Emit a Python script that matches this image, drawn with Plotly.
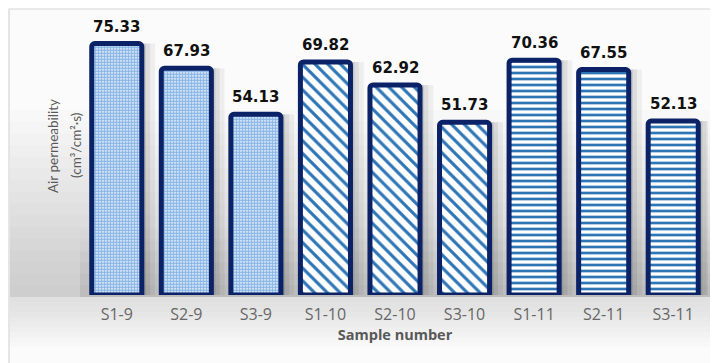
import plotly.graph_objects as go

samples = ["S1-9", "S2-9", "S3-9", "S1-10", "S2-10", "S3-10", "S1-11", "S2-11", "S3-11"]
air_permeability = [75.33, 67.93, 54.13, 69.82, 62.92, 51.73, 70.36, 67.55, 52.13]
value_labels = ["75.33", "67.93", "54.13", "69.82", "62.92", "51.73", "70.36", "67.55", "52.13"]
patterns = [".", ".", ".", "\\", "\\", "\\", "-", "-", "-"]

W, H = 718, 363
OFF = 8  # page body margin offset
ML, MR, MT, MB = 74, 18, 14, 76
PW, PH = W - ML - MR, H - MT - MB


def px(xr):
    return (xr - OFF - ML) / PW


def py(yr):
    return (H - MB - (yr - OFF)) / PH


NAVY = "#0b2366"
BLUE = "#2e75b6"

fig = go.Figure()

# soft shadows behind bars
for dx, w, a in [(0.11, 0.80, 0.05), (0.08, 0.76, 0.07), (0.06, 0.72, 0.09)]:
    fig.add_trace(go.Bar(
        x=samples, y=air_permeability, width=w, offset=-0.36 + dx,
        marker=dict(color=f"rgba(0,0,0,{a})", line=dict(width=0)),
        hoverinfo="skip", showlegend=False,
    ))

fig.add_trace(go.Bar(
    x=samples, y=air_permeability, width=0.72, offset=-0.36,
    marker=dict(
        color="white",
        line=dict(color=NAVY, width=5),
        cornerradius=3,
        pattern=dict(
            shape=patterns,
            fgcolor=[BLUE if p != "." else "#8ab6e6" for p in patterns],
            bgcolor="white",
            size=[3 if p == "." else (6 if p == "-" else 9) for p in patterns],
            solidity=[0.75 if p == "." else (0.45 if p == "-" else 0.35) for p in patterns],
            fillmode="replace",
        ),
    ),
    hoverinfo="x+y",
    showlegend=False,
))

shapes = []
# outer frame
shapes.append(dict(type="rect", xref="paper", yref="paper",
                   x0=px(9), x1=px(760), y0=py(420), y1=py(9),
                   fillcolor="#fbfbfb", line=dict(color="#d6d6d6", width=1.2), layer="below"))
# gray gradient toward floor (whole width)
n = 16
for i in range(n):
    y_top = 110 + i * (297 - 110) / n
    shapes.append(dict(type="rect", xref="paper", yref="paper",
                       x0=px(10), x1=px(760), y0=py(297), y1=py(y_top),
                       fillcolor="rgba(140,140,140,0.022)", line=dict(width=0), layer="below"))
# extra shading near the baseline between bars
for i in range(6):
    y_top = 230 + i * 11
    shapes.append(dict(type="rect", xref="paper", yref="paper",
                       x0=px(80), x1=px(712), y0=py(297), y1=py(y_top),
                       fillcolor="rgba(120,120,120,0.03)", line=dict(width=0), layer="below"))
# floor below bars
for i in range(10):
    y_bot = 297 + (i + 1) * 5
    shapes.append(dict(type="rect", xref="paper", yref="paper",
                       x0=px(10), x1=px(760), y0=py(y_bot), y1=py(297),
                       fillcolor="rgba(190,190,190,0.04)", line=dict(width=0), layer="below"))

annotations = [
    dict(text="Air permeability", xref="paper", yref="paper", x=px(43), y=py(146),
         textangle=-90, showarrow=False,
         font=dict(family="Liberation Sans Narrow, Lato", size=13.5, color="#595959")),
    dict(text="(cm³/cm²·s)", xref="paper", yref="paper", x=px(66), y=py(146),
         textangle=-90, showarrow=False,
         font=dict(family="Liberation Sans Narrow, Lato", size=13.5, color="#595959")),
]
for s, v, t in zip(samples, air_permeability, value_labels):
    annotations.append(dict(
        x=s, y=v, text=t, showarrow=False, yshift=17, yanchor="middle",
        font=dict(family="DejaVu Sans", size=15, color="#111111", weight="bold"),
    ))

fig.update_layout(
    width=W, height=H,
    margin=dict(l=ML, r=MR, t=MT, b=MB),
    paper_bgcolor="white", plot_bgcolor="rgba(0,0,0,0)",
    barmode="overlay",
    shapes=shapes, annotations=annotations,
    xaxis=dict(
        range=[-0.5, 8.5], fixedrange=True,
        tickfont=dict(family="Open Sans", size=16, color="#666666"),
        ticks="outside", ticklen=5, tickcolor="rgba(0,0,0,0)",
        showline=False, showgrid=False, automargin=False,
        title=dict(text="<b>Sample number</b>", standoff=2,
                   font=dict(family="Open Sans", size=14.5, color="#595959")),
    ),
    yaxis=dict(range=[0, 81.8], showticklabels=False, showgrid=False,
               zeroline=False, showline=False, fixedrange=True),
)

fig.write_html("out.html")
